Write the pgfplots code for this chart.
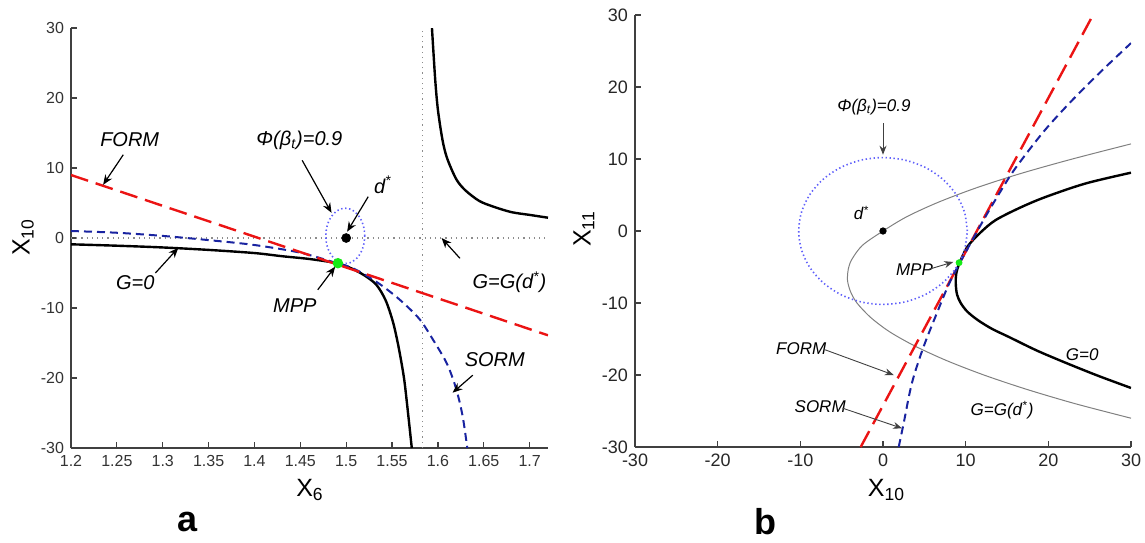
\documentclass[border=0pt]{standalone}
\usepackage{fontspec}
\setmainfont{Liberation Sans}
\setsansfont{Liberation Sans}
\usepackage{pgfplots}
\pgfplotsset{compat=1.18}
\usetikzlibrary{arrows.meta}

\definecolor{formred}{RGB}{235,20,20}
\definecolor{sormblue}{RGB}{25,35,160}
\definecolor{circblue}{RGB}{95,95,250}
\definecolor{mppgreen}{RGB}{20,235,20}

\pgfplotsset{
  panel/.style={
    scale only axis,
    axis x line*=bottom, axis y line*=left,
    axis line style={line width=0.8pt, black!75},
    tick style={black!75, line width=0.6pt},
    major tick length=3pt, tick align=inside,
    ticklabel style={font=\fontsize{8}{9}\selectfont, text=black!80},
    /pgf/number format/assume math mode=true,
    clip mode=individual,
    ymin=-30, ymax=30, ytick={-30,-20,...,30},
  },
}
\tikzset{
  ann/.style={font=\fontsize{10}{11}\selectfont\itshape},
  annb/.style={font=\fontsize{8.5}{9}\selectfont\itshape},
  arr/.style={-{Stealth[length=5pt,width=4pt]}, line width=0.6pt, black},
  arrb/.style={-{Stealth[length=4.5pt,width=3.5pt]}, line width=0.45pt, black!75},
}

\begin{document}
\begin{tikzpicture}
\useasboundingbox (0,0) rectangle (572.5pt,271pt);

% ---------- panel a ----------
\begin{axis}[panel,
  at={(35.5pt,47pt)}, anchor=south west,
  width=238.5pt, height=210pt,
  xmin=1.2, xmax=1.72,
  xtick={1.2,1.25,...,1.71},
  xticklabel style={/pgf/number format/fixed, /pgf/number format/precision=2},
]
% reference dotted lines
\addplot[black!45, dotted, line width=0.6pt] coordinates {(1.2,0) (1.72,0)};
\addplot[black!45, dotted, line width=0.6pt] coordinates {(1.583,-30) (1.583,30)};
% G=0
\addplot[black, line width=1.2pt, smooth] coordinates {
  (1.20,-0.9) (1.25,-1.1) (1.30,-1.35) (1.35,-1.7) (1.40,-2.15) (1.43,-2.6)
  (1.46,-3.0) (1.49,-3.6) (1.505,-4.3) (1.52,-5.35) (1.533,-6.7) (1.543,-8.9)
  (1.551,-12.0) (1.557,-15.5) (1.563,-20.0) (1.567,-24.5) (1.5715,-30)};
\addplot[black, line width=1.2pt, smooth] coordinates {
  (1.5935,30) (1.597,22.7) (1.600,18.3) (1.605,14.0) (1.610,11.4) (1.620,8.4)
  (1.630,6.8) (1.645,5.3) (1.660,4.5) (1.680,3.7) (1.700,3.3) (1.720,2.9)};
% SORM
\addplot[sormblue, line width=1.0pt, dash pattern=on 4pt off 2.5pt, smooth] coordinates {
  (1.20,1.0) (1.25,0.75) (1.30,0.3) (1.35,-0.3) (1.40,-1.0) (1.45,-2.1)
  (1.49,-3.6) (1.505,-4.2) (1.52,-5.2) (1.54,-6.9) (1.56,-9.0) (1.58,-11.6) (1.595,-14.6)
  (1.61,-18) (1.62,-21.6) (1.627,-25.5) (1.632,-30)};
% FORM
\addplot[formred, line width=1.2pt, dash pattern=on 9pt off 4pt] coordinates {(1.2,9.0) (1.72,-13.9)};
% beta circle
\addplot[circblue, line width=0.8pt, dash pattern=on 0.7pt off 1.3pt, smooth] coordinates {
  (1.5202,0.3) (1.5195,1.323) (1.5174,2.275) (1.5140,3.093) (1.5096,3.721) (1.5045,4.115)
  (1.499,4.25) (1.4935,4.115) (1.4884,3.721) (1.4840,3.093) (1.4806,2.275) (1.4785,1.323)
  (1.4778,0.3) (1.4785,-0.723) (1.4806,-1.675) (1.4840,-2.493) (1.4884,-3.121) (1.4935,-3.515)
  (1.499,-3.65) (1.5045,-3.515) (1.5096,-3.121) (1.5140,-2.493) (1.5174,-1.675) (1.5195,-0.723)
  (1.5202,0.3)};
% points
\addplot[only marks, mark=*, mark size=2.2pt, black] coordinates {(1.5,0)};
\addplot[only marks, mark=*, mark size=2.4pt, mppgreen, mark options={draw=mppgreen}] coordinates {(1.491,-3.6)};
% annotations
\node[ann] at (axis cs:1.264,14) {FORM};
\draw[arr] (axis cs:1.257,11.9) -- (axis cs:1.235,7.6);
\node[ann] at (axis cs:1.449,14) {Φ(β\textsubscript{t})=0.9};
\draw[arr] (axis cs:1.452,11.1) -- (axis cs:1.484,3.6);
\node[ann] at (axis cs:1.540,7.6) {d\textsuperscript{*}};
\draw[arr] (axis cs:1.524,5.9) -- (axis cs:1.501,0.9);
\node[ann] at (axis cs:1.270,-6.4) {G=0};
\draw[arr] (axis cs:1.292,-5) -- (axis cs:1.317,-1.4);
\node[ann] at (axis cs:1.444,-9.6) {MPP};
\draw[arr] (axis cs:1.469,-7.4) -- (axis cs:1.488,-4.1);
\node[ann] at (axis cs:1.678,-6.3) {G=G(d\textsuperscript{*})};
\draw[arr] (axis cs:1.624,-2.9) -- (axis cs:1.604,0);
\node[ann] at (axis cs:1.662,-17.4) {SORM};
\draw[arr] (axis cs:1.638,-19.6) -- (axis cs:1.616,-22.1);
% labels
\node[font=\fontsize{12.5}{13}\selectfont] at (rel axis cs:0.501,-0.1) {X\textsubscript{6}};
\node[font=\fontsize{12.5}{13}\selectfont, rotate=90] at (rel axis cs:-0.1006,0.502) {X\textsubscript{10}};
\node[font=\fontsize{18}{19}\selectfont\bfseries] at (rel axis cs:0.245,-0.176) {a};
\end{axis}

% ---------- panel b ----------
\begin{axis}[panel,
  at={(317.5pt,47.5pt)}, anchor=south west,
  width=248pt, height=216pt,
  xmin=-30, xmax=30, xtick={-30,-20,...,30},
  ticklabel style={font=\fontsize{9}{10}\selectfont, text=black!85},
]
% G=G(d*)
\addplot[black!50, line width=0.5pt, smooth] coordinates {
  (30,-26) (23.3,-24) (17.4,-22) (12.2,-20) (7.7,-18) (3.9,-16) (0.8,-14)
  (-1.5,-12) (-3.15,-10) (-3.9,-8.5) (-4.25,-7.2) (-4.3,-6.4) (-4.2,-5.3)
  (-3.8,-4) (-2.5,-2) (0,0) (2.9,2) (6.7,4) (11.3,6) (16.7,8) (22.9,10) (30,12.1)};
% G=0
\addplot[black, line width=1.2pt, smooth] coordinates {
  (30,-21.8) (26,-20.1) (22.3,-18.4) (18.6,-16.6) (15.2,-14.7) (13.2,-13.6)
  (11.5,-12.4) (10.2,-11.2) (9.4,-10.0) (8.95,-8.8) (8.8,-7.3) (8.85,-6.0)
  (9.2,-4.6) (10.2,-2.2) (11.8,-0.2) (13.6,1.5) (16.5,3.2) (19.6,4.7) (24.5,6.6) (30,8.1)};
% FORM
\addplot[formred, line width=1.2pt, dash pattern=on 9pt off 4pt] coordinates {(-2.7,-30) (25.4,30)};
% SORM
\addplot[sormblue, line width=1.0pt, dash pattern=on 4pt off 2.5pt, smooth] coordinates {
  (1.9,-30) (2.5,-26.7) (3.5,-21.1) (4.9,-16.1) (6.8,-10.6) (8.0,-7.3) (9.3,-4.4)
  (12,1.2) (14,5.1) (16,8.7) (19.5,13.9) (23,18.3) (26.5,22.3) (30,26.1)};
% beta circle
\addplot[circblue, line width=0.8pt, dash pattern=on 0.7pt off 1.3pt, smooth] coordinates {
  (10.2,0) (9.853,2.640) (8.833,5.1) (7.212,7.212) (5.1,8.833) (2.640,9.853) (0,10.2)
  (-2.640,9.853) (-5.1,8.833) (-7.212,7.212) (-8.833,5.1) (-9.853,2.640) (-10.2,0)
  (-9.853,-2.640) (-8.833,-5.1) (-7.212,-7.212) (-5.1,-8.833) (-2.640,-9.853) (0,-10.2)
  (2.640,-9.853) (5.1,-8.833) (7.212,-7.212) (8.833,-5.1) (9.853,-2.640) (10.2,0)};
% points
\addplot[only marks, mark=*, mark size=1.6pt, black] coordinates {(0,0)};
\addplot[only marks, mark=*, mark size=1.5pt, mppgreen, mark options={draw=mppgreen}] coordinates {(9.2,-4.4)};
% annotations
\node[annb] at (axis cs:-1.1,17.2) {Φ(β\textsubscript{t})=0.9};
\draw[arrb] (axis cs:0,15) -- (axis cs:0,10.6);
\node[annb] at (axis cs:-2.6,2.5) {d\textsuperscript{*}};
\node[annb] at (axis cs:3.8,-5.4) {MPP};
\draw[arrb] (axis cs:5.6,-5.3) -- (axis cs:8.5,-4.3);
\node[annb] at (axis cs:-9.9,-16.3) {FORM};
\draw[arrb] (axis cs:-7.0,-16.5) -- (axis cs:1.3,-20.0);
\node[annb] at (axis cs:-7.6,-24.4) {SORM};
\draw[arrb] (axis cs:-4.9,-24.6) -- (axis cs:2.3,-27.4);
\node[annb] at (axis cs:24.1,-17.2) {G=0};
\node[annb] at (axis cs:14.4,-24.9) {G=G(d\textsuperscript{*})};
% labels
\node[font=\fontsize{12.5}{13}\selectfont] at (rel axis cs:0.507,-0.1) {X\textsubscript{10}};
\node[font=\fontsize{12.5}{13}\selectfont, rotate=90] at (rel axis cs:-0.103,0.505) {X\textsubscript{11}};
\node[font=\fontsize{18}{19}\selectfont\bfseries] at (rel axis cs:0.264,-0.173) {b};
\end{axis}
\end{tikzpicture}
\end{document}
